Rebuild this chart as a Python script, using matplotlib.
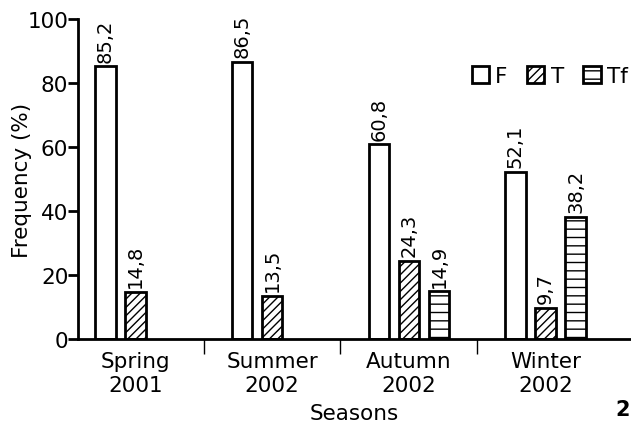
import numpy as np
import matplotlib.pyplot as plt
from matplotlib.patches import Patch

seasons = ['Spring\n2001', 'Summer\n2002', 'Autumn\n2002', 'Winter\n2002']
series = ['F', 'T', 'Tf']
f_vals = [85.2, 86.5, 60.8, 52.1]
t_vals = [14.8, 13.5, 24.3, 9.7]
tf_vals = [None, None, 14.9, 38.2]
hatches = ['', '////', '--']

plt.rcParams['hatch.linewidth'] = 1.0
plt.rcParams['font.family'] = 'DejaVu Sans'

fig = plt.figure(figsize=(6.31, 4.27), dpi=100)
ax = fig.add_axes([78 / 631, 87 / 427, 553 / 631, 320 / 427])

x = np.arange(len(seasons))
slot = 0.22
width = 0.15
for i, vals in enumerate([f_vals, t_vals, tf_vals]):
    pos = [xi + (i - 1) * slot for xi, v in zip(x, vals) if v is not None]
    v = [v for v in vals if v is not None]
    bars = ax.bar(pos, v, width, color='white', edgecolor='black',
                  linewidth=2.0, hatch=hatches[i], label=series[i])
    for b, val in zip(bars, v):
        ax.text(b.get_x() + b.get_width() / 2, val + 1.5,
                f'{val:.1f}'.replace('.', ','), rotation=90,
                ha='center', va='bottom', fontsize=14)

ax.set_xlim(-0.42, 3.625)
ax.set_ylim(0, 100)
ax.set_yticks([0, 20, 40, 60, 80, 100])
ax.set_xticks(x)
ax.set_xticklabels(seasons, fontsize=15.5, linespacing=1.25)
ax.set_xticks([0.5, 1.5, 2.5], minor=True)
ax.tick_params(axis='x', which='major', length=0, pad=9)
ax.tick_params(axis='x', which='minor', length=11, width=1, direction='out')
ax.tick_params(axis='y', labelsize=15.5, length=7, width=2.0, pad=0)
for s in ['top', 'right']:
    ax.spines[s].set_visible(False)
for s in ['left', 'bottom']:
    ax.spines[s].set_linewidth(2.0)

ax.set_ylabel('Frequency (%)', fontsize=15.5, labelpad=0)
ax.yaxis.set_label_coords(-0.083, 0.5)
ax.set_xlabel('Seasons', fontsize=15.5)
ax.xaxis.set_label_coords(0.5, -0.2)

handles = [Patch(facecolor='white', edgecolor='black', linewidth=2.0, hatch=h)
           for h in hatches]
ax.legend(handles, series, ncol=3, frameon=False, fontsize=15.5,
          handlelength=0.8, handleheight=0.8, handletextpad=0.3,
          columnspacing=0.9, loc='upper right', bbox_to_anchor=(1.01, 0.88),
          borderaxespad=0)

fig.text(0.999, 0.025, '2', fontsize=15, fontweight='bold', ha='right')

fig.savefig('out.png', dpi=100)
